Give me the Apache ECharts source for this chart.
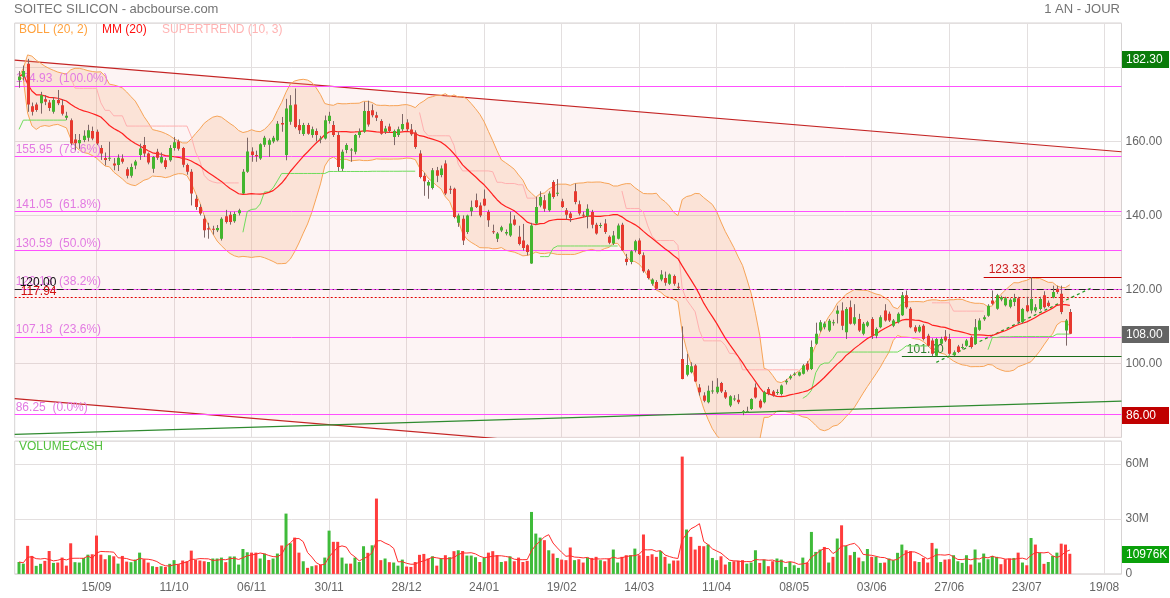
<!DOCTYPE html>
<html><head><meta charset="utf-8">
<script src="https://cdn.jsdelivr.net/npm/echarts@6/dist/echarts.min.js"></script>
<style>html,body{margin:0;padding:0;background:#fff}#c{width:1170px;height:598px}</style>
</head><body><div id="c"></div>
<script>
// ---------------- DATA ----------------
var open = [176.5,177.5,181,169.5,170,170.3,171.4,170.5,168,171.2,
169.8,166.4,165.7,160.5,159.5,160.4,161,162.8,162.6,158.2,
155.5,155.4,154,153.6,155.4,152.5,150.7,153.5,156.3,159,
156.7,152.6,157.2,154.3,154.9,154.9,158.2,160,158.2,153.6,
151.8,144.5,142.3,139.1,136.5,136.4,136,133.7,139.8,140.2,
138.4,140.6,145.9,151.8,157.3,156.3,155.4,159.1,159.1,160,
160.3,165,156.3,165.3,170,164.4,162,164.4,161.7,162.8,
160.6,160.8,165.5,164.4,161.7,152.6,157.7,157.7,157.2,161.7,
162.6,168.2,168.4,167.1,165.5,162.6,164,161.2,161.7,163.3,
165.1,163.2,162.4,156.7,150.7,148.1,147.4,152.2,150.9,154,
147.2,147.2,138,139.1,135.5,141.1,144.1,142.7,144.5,140.9,
135.7,133.7,135.9,135.1,134.6,138.9,134.2,133.2,131.9,127,
137.8,142.7,144.1,141.4,149,146,143.8,141.4,140.5,146.5,
143,140.2,139.8,140.9,137.5,137.2,137.8,134.2,132.4,133.7,
137.5,128.3,127.4,130.6,133.2,129.2,125.1,121.5,122,122.7,
123.1,121.5,123.6,120.7,101.2,96.9,97.6,99.4,93.5,91.3,
89.5,92.5,92.2,94.7,92.2,88.6,90.4,90.2,86.6,87,
87.7,93.5,89.9,89.5,93.1,92.4,92.2,91.7,94.9,96,
97,96.7,97.2,100,98.5,105.3,108.9,109.8,108.9,111,
113.4,114.3,108.4,115.2,110.7,112,108,110.2,112,107.5,
109.8,114.3,113.4,110.2,111.1,113,118.4,114.8,109.8,108.6,
110.2,107.5,106.2,102.1,105.3,107.3,106.6,102.2,104.6,104.2,
104.8,107.1,105.3,109.1,111.9,112.9,117,114.8,117.3,115.7,
115.3,116.6,117.6,111.1,115.7,114.3,114.3,114.7,118.4,116.4,
117.9,120.2,118.8,108.9,113.9];
var high = [179,180.5,182.3,170.5,170.5,173.4,172.5,171.2,172,173.9,
171.4,168,166.2,162,162,163,164.5,164,163.2,159,
157,159.9,155.5,156.5,156.5,153,154,155,159.4,161.2,
157,156,158,157,155.5,159,161.2,160.5,158.5,154,
152.5,145.5,143,140,138,137.2,137.4,139.5,141.5,141,
141,141.8,152.5,161,158.4,157.5,159.5,161.5,160.8,161.5,
165.5,166.6,171.5,172.5,174.3,166,165,165,164,163.5,
161.5,167,168,165.5,162.5,157.8,159.5,158.2,162,163.5,
170.7,171,170,168,166,164.2,164.8,163.2,164,167.4,
166,164.7,163,157.6,151.5,149.5,152.8,153.1,153.5,154.9,
148,147.5,140.5,140,140.2,144,145.9,143.5,147,141.5,
137.5,135.5,137.2,136.2,141,140,137.2,137.7,132.2,138,
145,146.5,145.5,146.5,149.5,149.8,144.5,142,141,148.6,
144,141,143,141.5,138,138,139,134.6,135.8,137.8,
138,129.6,130.6,133.4,133.8,130,125.5,123,122.5,125.2,
124.8,124.3,124,121.8,110,102.6,100.3,99.8,94.4,92.2,
94,95.3,96,95,92.8,91.4,91.4,91.7,87.4,88.3,
90.6,94.6,90.3,92.6,93.6,92.8,93,94.3,95.8,97,
97.6,97.8,99.8,100.6,106.2,111,111.7,111.3,112,111.8,
115.6,116.5,115.2,117,116,113.4,111.2,111.5,112.5,109.7,
113,116,114,112,113.8,119.3,119.7,115.2,110.3,110.4,
110.6,108,106.8,106.9,107.2,109,108,103.5,105,105.3,
106.6,107.5,112,112.2,113,116,119.7,118.8,118.3,118,
117.6,118.8,118,115,118,123.33,116,118,119.5,117,
121,121,121,112,114.7];
var low = [174.5,176.5,168,167,168,167.5,169.8,168.2,167.5,169.8,
167,165.8,159,157.6,158,159.8,160,160.3,159,155,
153.5,154.7,152.2,152,154,150,150.2,152.5,155,155.8,
153.8,151.5,155,154,152.5,154.5,157.5,157.5,153,151,
142.7,141.5,140,134,133.7,134.8,135.5,133.2,137.8,137.5,
138,140,145.8,151.5,154.5,154.5,155,158.5,155.8,159.5,
160,162.6,154.9,164.5,163.5,162,161.5,161.8,161,160,
159.5,160.5,164.8,161.2,152,152,156.8,154.5,156.5,161,
162.3,164,166.5,165.5,161.8,162,162.3,159,161.2,162.8,
162.8,161.5,158,150,145.3,144.5,147,149,150.3,145.5,
145.8,139.2,136.9,132,135,139.8,142,139.5,142.5,136.9,
135,132.8,135.5,134.6,134.2,137.2,131.9,130.5,129.2,126.9,
137.5,142.2,141,141,144.5,145.2,142,138.9,138.2,143,
140,139.5,136.5,136.5,134.8,136.6,135,132.2,132,133.5,
130.4,126.5,126.8,130,129.3,124.5,122.7,121,120,122.2,
121,121.2,121,120,95.7,96.5,97.3,95,91.3,89.5,
89.2,91.8,91.8,92,90.4,88.2,89.8,89,86,86.6,
87.4,90.5,87.8,89.2,91.4,91,91.5,91.3,94.3,95.6,
96.6,96.5,97,97.8,98.2,105,108.5,109.2,108.5,110.2,
110.8,109,106.6,110.5,110.3,108.5,107.6,109.8,106.6,106.8,
109.5,111.3,111.2,109.8,110.8,112.8,114.8,109.5,108.2,108.3,
106.2,104.5,101.9,101.9,104.8,105.8,102.3,102,102.8,103.8,
104.5,104,105,108.8,111.5,112.6,115.8,114.5,116.8,115.4,
114.9,115.5,110.8,110.8,113.8,113.5,113.8,114.3,114.8,115.2,
117.6,118.8,113.3,104.8,107.9];
var close = [177.5,179,170,168,168.5,172.5,170.7,169,171.2,170.3,
167.5,166.9,159.4,159.5,160.4,161.5,163,160.8,159.4,156.7,
155,155.6,153.5,155.6,154.5,150.7,153.1,154.6,158.1,156.7,
154.3,155.8,155.6,155.8,153.1,158.2,159.8,158,153.7,151.8,
145.9,142.3,140.5,136,136.2,136.2,136.6,139.1,138.2,138.2,
140.4,141.4,151.8,157.3,156.3,156,159.2,161,160.3,161,
164.8,164.6,168.9,169.8,163.9,163,164.4,162.1,163.3,161.7,
160.8,165.7,166.9,161.7,153.1,157.2,159,157.8,161.7,162.6,
168.2,164.6,167.1,166.4,162.1,163.5,162.8,162.8,163.3,164.7,
163.3,161.9,158.5,150.4,149.2,149,152.2,150.7,152.7,145.9,
147,139.6,140,133.2,140,142.2,142.3,140,142.7,138.7,
135.5,135.1,136.8,135.5,137.8,137.5,132.3,131.2,130.1,137.3,
142.3,145,141.8,145.9,145,146.1,142.3,140.2,139.3,143.6,
140.5,140.1,141.8,137.5,135.1,137.4,135.5,132.6,134.6,137.3,
130.6,127.4,130.3,133,129.6,124.9,123.1,122.7,120.2,124,
121.8,124,121.5,120.6,95.8,99.6,99.2,95.1,92.2,89.9,
92.6,92.7,93.7,92.4,90.8,91.1,90.5,89.5,87.1,87.1,
90.4,90.8,88.1,92.2,91.7,91.3,92.3,94,95.3,96.5,
97.2,97.6,99.4,98.3,104.4,108,111.1,110.8,111.5,111.1,
114.3,110.2,114.7,110.7,112.5,108.9,110.7,111.1,107.5,109.3,
112.5,111.6,111.6,111.6,113.4,118.4,115.2,109.8,108.6,109.9,
106.6,104.8,102.6,106.6,106.6,106.2,102.6,103,103.1,104.4,
106.2,104.4,109.8,111.6,112.5,115.6,116.1,118.4,117.9,117.6,
117.2,117.6,111.3,114.7,114.1,117.4,115.2,117.4,115.2,115.5,
119.3,119.3,113.9,111.6,108];
// volume cash, millions
var volumeM = [6.5,5.6,15.3,9.8,4.4,5.5,7.1,12.5,6.0,6.2,
8.9,4.5,16.7,6.4,6.2,8.7,10.5,10.7,20.9,10.5,
8.0,10.2,9.6,5.6,9.8,6.7,6.4,7.8,11.6,8.0,
6.2,4.2,3.8,4.2,3.8,5.5,7.5,5.3,7.3,6.9,
12.7,7.6,7.3,6.9,6.5,8.4,8.4,8.9,6.4,9.5,
9.5,5.1,13.6,11.8,11.6,11.6,8.4,11.1,7.6,8.4,
11.1,15.5,32.9,16.7,19.8,11.6,6.9,3.3,4.2,4.7,
5.1,8.9,23.6,17.5,17.5,8.9,5.6,5.6,8.9,6.5,
15.1,11.5,15.6,41.1,7.5,8.4,6.4,6.2,4.5,7.8,
4.0,3.8,6.5,10.4,10.9,8.4,9.6,4.5,8.4,10.2,
9.1,12.4,12.9,12.5,10.0,10.0,9.1,6.5,8.7,11.6,
12.4,10.2,6.5,6.9,9.6,6.9,8.9,6.5,7.1,33.8,
22.0,19.8,18.4,12.9,11.1,8.7,7.8,7.5,14.4,7.5,
8.0,6.2,8.9,8.7,9.3,7.5,6.9,8.4,13.3,6.2,
9.3,10.2,10.2,13.8,10.2,21.5,9.8,10.7,9.3,12.5,
9.3,5.6,7.3,7.3,64,24.2,20.2,13.3,15.3,15.1,
16,8.7,7.5,9.6,5.1,6.5,6.9,7.1,7.5,5.6,
6.2,12.9,6,7.8,4.2,6.9,8.4,7.8,3.8,6.5,
4.7,3.3,8.9,6.2,22.9,12,13.3,14.7,6.2,9.3,
19.3,26.5,15.3,10.2,12,8.9,6.9,13.6,9.3,9.3,
6,6.2,8.4,7.5,11.5,16,12.9,12.4,6.9,6.5,
8.7,6.2,16.9,13.8,6.5,7.8,8,10.2,6.9,6,
10.2,5.1,13.3,6.2,11.1,8,9.8,9.3,5.3,8,
8.4,8.7,11.6,6.2,4.7,19.6,16,11.5,5.5,6.5,
9.8,11.6,16.5,16,10.976];
var tickLabels = ['15/09','11/10','06/11','30/11','28/12','24/01','19/02','14/03','11/04','08/05','03/06','27/06','23/07','19/08'];
var FIRST_TICK = 18, TICK_STEP = 18;          // bar index of first label, bars between labels
var fibLevels = [174.93,155.95,141.05,130.59,120.13,107.18,86.25];
var fibPct = ['100.0','78.6','61.8','50.0','38.2','23.6','0.0'];
var levelDashDot = 120.00, levelDotted = 117.94;
var resistance = {value:123.33, from:224};
var support = {value:101.90, from:205};
var channelUpper = [[-1,181.98],[256,157.2]];   // [bar index, price]
var channelWidth = 91.5;
var risingSupport = [[-1,80.81],[256,89.81]];
var dottedTrend = [[213,100.3],[249,120.4]];

// ---------------- categories (trading days) ----------------
var HOLIDAYS = ['2023-12-25','2023-12-26','2024-01-01','2024-03-29','2024-04-01','2024-05-01','2024-08-15'];
var N_CAT = 258; // one padding slot + 257 bars (incl. future days)
var categories = [''];
(function(){
  var d = new Date(Date.UTC(2023,7,22));
  while (categories.length < N_CAT) {
    var s = d.toISOString().slice(0,10), wd = d.getUTCDay();
    if (wd !== 0 && wd !== 6 && HOLIDAYS.indexOf(s) < 0) categories.push(s);
    d.setUTCDate(d.getUTCDate()+1);
  }
})();
function K(i){ return i+1; } // bar index -> category slot

// ---------------- indicators ----------------
function sma(a,n){ return a.map(function(_,i){ var s=0,c=0; for(var j=Math.max(0,i-n+1);j<=i;j++){s+=a[j];c++;} return s/c; }); }
function bollinger(a,n,k){
  var mid=sma(a,n), up=[], lo=[];
  a.forEach(function(_,i){ var s=0,c=0; for(var j=Math.max(0,i-n+1);j<=i;j++){s+=Math.pow(a[j]-mid[i],2);c++;} var sd=Math.sqrt(s/c); up.push(mid[i]+k*sd); lo.push(mid[i]-k*sd); });
  return {mid:mid, up:up, lo:lo};
}
function supertrend(h,l,c,period,mult){
  var n=c.length, atr=0, trs=0, fu=[], fl=[], up=[], dn=[], trend=1;
  for(var i=0;i<n;i++){
    var t = i===0 ? h[i]-l[i] : Math.max(h[i]-l[i], Math.abs(h[i]-c[i-1]), Math.abs(l[i]-c[i-1]));
    if(i<period){ trs+=t; atr=trs/(i+1); } else { atr=(atr*(period-1)+t)/period; }
    var m=(h[i]+l[i])/2, bu=m+mult*atr, bl=m-mult*atr;
    fu[i] = (i===0 || bu<fu[i-1] || c[i-1]>fu[i-1]) ? bu : fu[i-1];
    fl[i] = (i===0 || bl>fl[i-1] || c[i-1]<fl[i-1]) ? bl : fl[i-1];
    if(i>0){ if(trend===1 && c[i]<fl[i]) trend=-1; else if(trend===-1 && c[i]>fu[i]) trend=1; }
    up.push(trend===1?fl[i]:null); dn.push(trend===-1?fu[i]:null);
  }
  return {up:up, dn:dn};
}
function pad(a){ return [null].concat(a); }

var bb = bollinger(close,20,2);
var mm = sma(close,20);
var st = supertrend(high,low,close,10,3);
var vol = volumeM.map(function(v){ return v*1e6; });
var volMa = sma(vol,5);
var hiMax = Math.max.apply(null, high), loMin = Math.min.apply(null, low), last = close[close.length-1];
var lastVol = vol[vol.length-1];

// ---------------- styles ----------------
var FONT = 'Liberation Sans, Arial, Helvetica, sans-serif';
var UP='#43b52e', DOWN='#e7392f', WICK='#7d6767';
var GRIDC='#e3dfdf', BORDER='#d6d3d3';

var candleData = close.map(function(c,i){ return [K(i), open[i], c, low[i], high[i]]; });
function renderCandle(params, api){
  var k=api.value(0), o=api.value(1), c=api.value(2), l=api.value(3), h=api.value(4);
  var pO=api.coord([k,o]), pC=api.coord([k,c]), pL=api.coord([k,l]), pH=api.coord([k,h]);
  var x=Math.round(pO[0])+0.5;
  var top=Math.min(pO[1],pC[1]), hg=Math.max(1,Math.abs(pO[1]-pC[1]));
  return {type:'group', children:[
    {type:'line', shape:{x1:x,y1:pH[1],x2:x,y2:pL[1]}, style:{stroke:WICK,lineWidth:1}},
    {type:'rect', shape:{x:x-1.5,y:top,width:3,height:hg}, style:{fill:(c>=o?UP:DOWN)}}
  ]};
}
var volData = vol.map(function(v,i){
  var ref = i===0 ? open[0] : close[i-1];
  return {value:v, itemStyle:{color: close[i]>=ref ? '#3fbb3a' : '#ff3c3c'}};
});

function isTick(idx){ var i=idx-1; return i>=FIRST_TICK && (i-FIRST_TICK)%TICK_STEP===0; }
function xAxisCommon(gi, showLabels){
  return {type:'category', gridIndex:gi, data:categories, boundaryGap:false,
    axisLine:{show:false}, axisTick:{show:false},
    splitLine:{show:true, interval:function(idx){return isTick(idx);}, lineStyle:{color:GRIDC,width:1}},
    axisLabel:{show:showLabels, interval:function(idx){return isTick(idx);}, margin:8, color:'#666', fontSize:12, fontFamily:FONT,
      formatter:function(v,idx){ var j=(idx-1-FIRST_TICK)/TICK_STEP; return tickLabels[j]||''; }}};
}

var levelMarks = fibLevels.map(function(v,j){
  return {yAxis:v, lineStyle:{color:'#ff50ff', width:1, type:'solid'},
    label:{show:true, position:'insideStartTop', distance:[1,1], formatter:v.toFixed(2)+'  ('+fibPct[j]+'%)', color:'#e27ae2', fontSize:12, fontFamily:FONT}};
});
levelMarks.push({yAxis:levelDashDot, lineStyle:{color:'#222', width:1, type:[7,3,1,3]},
  label:{show:true, position:'insideStartTop', distance:[5,1], formatter:levelDashDot.toFixed(2), color:'#111', fontSize:12, fontFamily:FONT}});
levelMarks.push({yAxis:levelDotted, lineStyle:{color:'#e00000', width:1, type:[2,2]},
  label:{show:true, position:'insideStartTop', distance:[6,-1], formatter:levelDotted.toFixed(2), color:'#d01010', fontSize:12, fontFamily:FONT}});
levelMarks.push([{coord:[K(resistance.from), resistance.value], lineStyle:{color:'#c80000',width:1,type:'solid'},
   label:{show:true, position:'insideStartTop', distance:[5,1], formatter:resistance.value.toFixed(2), color:'#cc1e1e', fontSize:12, fontFamily:FONT}},
  {coord:[N_CAT-1, resistance.value]}]);
levelMarks.push([{coord:[K(support.from), support.value], lineStyle:{color:'#1a6d1a',width:1,type:'solid'},
   label:{show:true, position:'insideStartTop', distance:[5,1], formatter:support.value.toFixed(2), color:'#2f7f2f', fontSize:12, fontFamily:FONT}},
  {coord:[N_CAT-1, support.value]}]);
levelMarks.push([{coord:[K(dottedTrend[0][0]), dottedTrend[0][1]], lineStyle:{color:'#249a24',width:1.3,type:[3,3]}, label:{show:false}},
  {coord:[K(dottedTrend[1][0]), dottedTrend[1][1]]}]);

function lineS(name, data, color, extra){
  var s = {name:name, type:'line', xAxisIndex:0, yAxisIndex:0, data:data, symbol:'none', showSymbol:false,
    lineStyle:{color:color, width:1}, silent:true, z:3};
  for (var key in extra) s[key]=extra[key];
  return s;
}
var chLo = channelUpper.map(function(p){ return [K(p[0]), p[1]-channelWidth]; });
var chBand = channelUpper.map(function(p){ return [K(p[0]), channelWidth]; });

var option = {
  animation:false,
  backgroundColor:'#fff',
  title:[
    {text:'SOITEC SILICON - abcbourse.com', left:14, top:3, padding:0, textStyle:{color:'#747474', fontSize:13, fontWeight:'normal', fontFamily:FONT}},
    {text:'1 AN - JOUR', right:50, top:3, padding:0, textStyle:{color:'#747474', fontSize:13, fontWeight:'normal', fontFamily:FONT}},
    {text:'BOLL (20, 2)', left:19, top:24, padding:0, textStyle:{color:'#ffa23e', fontSize:12, fontWeight:'normal', fontFamily:FONT}},
    {text:'MM (20)', left:102, top:24, padding:0, textStyle:{color:'#ff1010', fontSize:12, fontWeight:'normal', fontFamily:FONT}},
    {text:'SUPERTREND (10, 3)', left:162, top:24, padding:0, textStyle:{color:'#ffb3b3', fontSize:12, fontWeight:'normal', fontFamily:FONT}},
    {text:'VOLUMECASH', left:19, top:441, padding:0, textStyle:{color:'#52c03c', fontSize:12, fontWeight:'normal', fontFamily:FONT}}
  ],
  grid:[
    {left:14.7, width:1106.8, top:23, height:414.4, show:true, borderColor:BORDER, borderWidth:1, backgroundColor:'transparent', outerBoundsMode:'none', containLabel:false},
    {left:14.7, width:1106.8, top:441, height:132.9, show:true, borderColor:BORDER, borderWidth:1, backgroundColor:'transparent', outerBoundsMode:'none', containLabel:false}
  ],
  xAxis:[ xAxisCommon(0,false), xAxisCommon(1,true) ],
  yAxis:[
    {type:'value', gridIndex:0, position:'right', min:80, max:192, interval:20,
      axisLine:{show:false}, axisTick:{show:false},
      splitLine:{show:true, lineStyle:{color:GRIDC}},
      axisLabel:{margin:4, color:'#666', fontSize:12, fontFamily:FONT,
        formatter:function(v){ return (v%20===0 && v>=100 && v<=160) ? v.toFixed(2) : ''; }}},
    {type:'value', gridIndex:1, position:'right', min:0, max:72.5e6, interval:30e6,
      axisLine:{show:false}, axisTick:{show:false},
      splitLine:{show:true, lineStyle:{color:GRIDC}},
      axisLabel:{margin:4, color:'#666', fontSize:12, fontFamily:FONT,
        formatter:function(v){ if(v===0) return '0'; return (v%30e6===0) ? (v/1e6)+'M' : ''; }}}
  ],
  series:[
    lineS('chanLo', chLo, '#c42424', {stack:'chan', z:1, lineStyle:{color:'#c42424', width:1.2}}),
    lineS('chanBand', chBand, '#c42424', {stack:'chan', z:1, lineStyle:{color:'#c42424', width:1.2}, areaStyle:{color:'rgba(238,150,150,0.15)'}}),
    lineS('support', risingSupport.map(function(p){return [K(p[0]),p[1]];}), '#2e8b2e',
      {z:3, lineStyle:{color:'#2f8a2f', width:1.2},
       markLine:{silent:true, symbol:['none','none'], animation:false, z:3, data:levelMarks}}),
    lineS('bollLo', pad(bb.lo), '#f7a457', {stack:'boll', z:2}),
    lineS('bollBand', pad(bb.up.map(function(u,i){return u-bb.lo[i];})), '#f7a457', {stack:'boll', z:2, areaStyle:{color:'rgba(248,170,118,0.32)'}}),
    lineS('stUp', pad(st.up), '#6fdc5c', {z:3}),
    lineS('stDn', pad(st.dn), '#ffb0b0', {z:3}),
    lineS('mm20', pad(mm), '#ff2020', {z:4, lineStyle:{color:'#ff2020', width:1.2}}),
    {name:'SOITEC', type:'custom', xAxisIndex:0, yAxisIndex:0, data:candleData, renderItem:renderCandle,
      encode:{x:0, y:[1,2,3,4]}, clip:true, z:5, silent:true},
    {name:'VOLUMECASH', type:'bar', xAxisIndex:1, yAxisIndex:1, data:pad(volData), barWidth:3, silent:true},
    {name:'volMa', type:'line', xAxisIndex:1, yAxisIndex:1, data:pad(volMa), symbol:'none', showSymbol:false,
      lineStyle:{color:'#ff2b2b', width:1}, silent:true, z:4}
  ]
};
var chart = echarts.init(document.getElementById('c'));
chart.setOption(option);

// value boxes on the right axis, positioned through the axis scales
function valueBox(axisIdx, value, text, bg){
  var y = chart.convertToPixel({yAxisIndex:axisIdx}, value);
  return {type:'group', x:1122, y:Math.round(y)-8, z:100, silent:true, children:[
    {type:'rect', shape:{x:0,y:0,width:47,height:17}, style:{fill:bg}},
    {type:'text', style:{x:4, y:9, text:text, fill:'#fff', font:'12px '+FONT, verticalAlign:'middle', align:'left'}}
  ]};
}
chart.setOption({graphic:[
  valueBox(0, hiMax, hiMax.toFixed(2), '#0a7c0a'),
  valueBox(0, last, last.toFixed(2), '#646464'),
  valueBox(0, loMin, loMin.toFixed(2), '#c00000'),
  valueBox(1, lastVol, Math.round(lastVol/1000)+'K', '#0aa00a')
]});
</script></body></html>
